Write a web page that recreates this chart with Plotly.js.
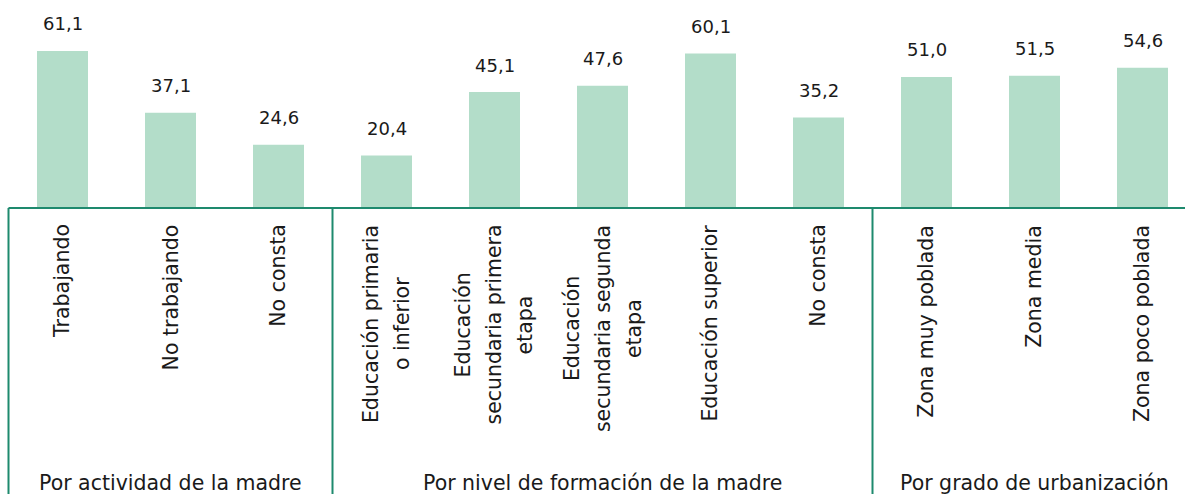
<!DOCTYPE html>
<html>
<head>
<meta charset="utf-8">
<script src="https://cdn.plot.ly/plotly-3.0.1.min.js"></script>
<style>html,body{margin:0;padding:0;background:#fff;}#chart{width:1185px;height:494px;}</style>
</head>
<body>
<div id="chart"></div>
<script>
// ---- data ----
const categories = [
  "Trabajando", "No trabajando", "No consta",
  "Educación primaria<br>o inferior",
  "Educación<br>secundaria primera<br>etapa",
  "Educación<br>secundaria segunda<br>etapa",
  "Educación superior", "No consta ",
  "Zona muy poblada", "Zona media", "Zona poco poblada"
];
const values = [61.1, 37.1, 24.6, 20.4, 45.1, 47.6, 60.1, 35.2, 51.0, 51.5, 54.6];
const groupNames = ["Por actividad de la madre", "Por nivel de formación de la madre", "Por grado de urbanización"];
const groupSizes = [3, 5, 3];

// ---- styling / layout constants ----
const W = 1185, H = 494;
const FONT = "DejaVu Sans";
const LABEL_SIZE = 20.5;
const VALUE_SIZE = 18;
const barColor = "#b3ddc9";
const lineColor = "#1e8a6e";
const textColor = "#1a1a1a";
const basePx = 208;           // pixel row of value 0
const pxPerUnit = 2.57;       // vertical scale
const slotPx = 108;           // pixels per category
const firstCenterPx = 62.5;   // pixel column of first category
const labelTopPx = 225;
const lineSpacePx = 31;
const groupLabelPx = 483;

const xIdx = categories.map((_, i) => i);
const xr0 = -(firstCenterPx / slotPx);
const xr1 = xr0 + W / slotPx;
const yr1 = basePx / pxPerUnit;
const yr0 = -(H - basePx) / pxPerUnit;
const pxToPaperY = px => 1 - px / H;

const ctx = document.createElement("canvas").getContext("2d");
ctx.font = LABEL_SIZE + "px '" + FONT + "'";

const annotations = [];
// value labels
values.forEach((v, i) => {
  annotations.push({
    x: xIdx[i], y: v, xref: "x", yref: "y", yshift: 27,
    text: v.toFixed(1).replace(".", ","), showarrow: false,
    xanchor: "center", yanchor: "middle",
    font: {family: FONT, size: VALUE_SIZE, color: textColor}
  });
});
// category labels (rotated, centered lines)
categories.forEach((c, i) => {
  const lines = c.split("<br>").map(s => s.trim());
  const maxW = Math.max(...lines.map(l => ctx.measureText(l).width));
  const centerPx = labelTopPx + maxW / 2;
  lines.forEach((l, j) => {
    annotations.push({
      x: xIdx[i], y: pxToPaperY(centerPx), xref: "x", yref: "paper",
      xshift: (j - (lines.length - 1) / 2) * lineSpacePx,
      text: l, textangle: -90, showarrow: false,
      xanchor: "center", yanchor: "middle",
      font: {family: FONT, size: LABEL_SIZE, color: textColor}
    });
  });
});
// group labels & separators
const shapes = [];
let start = 0;
groupNames.forEach((g, k) => {
  const n = groupSizes[k];
  annotations.push({
    x: start + (n - 1) / 2, y: pxToPaperY(groupLabelPx), xref: "x", yref: "paper",
    text: g, showarrow: false, xanchor: "center", yanchor: "middle",
    font: {family: FONT, size: LABEL_SIZE, color: textColor}
  });
  shapes.push({type: "line", xref: "x", yref: "y", x0: start - 0.5, x1: start - 0.5, y0: 0, y1: yr0,
    line: {color: lineColor, width: 2}});
  start += n;
});
shapes.push({type: "line", xref: "x", yref: "y", x0: -0.5, x1: categories.length - 0.5, y0: 0, y1: 0,
  line: {color: lineColor, width: 2}});

const trace = {
  type: "bar", x: xIdx, y: values, width: 0.472,
  marker: {color: barColor, line: {width: 0}},
  hoverinfo: "skip"
};

const layout = {
  width: W, height: H,
  margin: {l: 0, r: 0, t: 0, b: 0, pad: 0},
  paper_bgcolor: "#fff", plot_bgcolor: "#fff",
  showlegend: false,
  xaxis: {range: [xr0, xr1], visible: false, fixedrange: true},
  yaxis: {range: [yr0, yr1], visible: false, fixedrange: true},
  annotations: annotations, shapes: shapes
};

Plotly.newPlot("chart", [trace], layout, {displayModeBar: false, staticPlot: true});
</script>
</body>
</html>
